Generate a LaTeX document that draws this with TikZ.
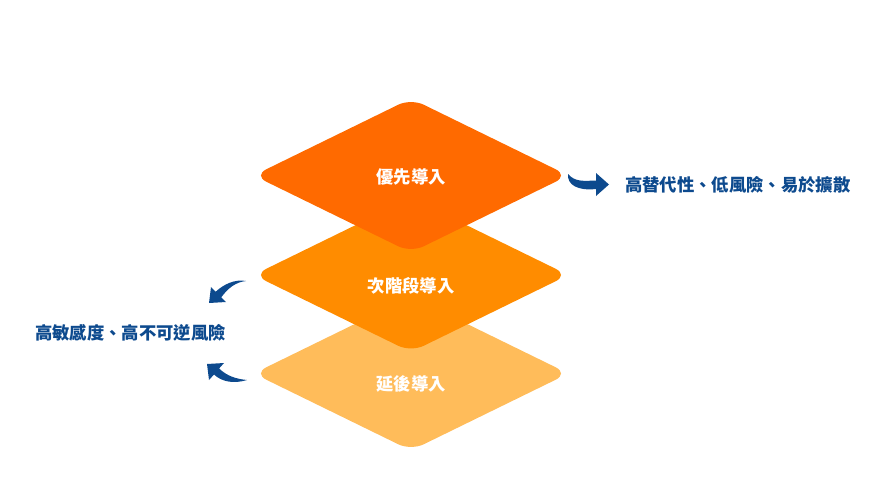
\documentclass[tikz,border=0pt]{standalone}
\usepackage{fontspec}
\newfontfamily\cjk{Noto Sans CJK TC}
\definecolor{topc}{HTML}{FF6A00}
\definecolor{midc}{HTML}{FF8C00}
\definecolor{lowc}{HTML}{FFBC5A}
\definecolor{bluec}{HTML}{0D4A8E}
\tikzset{
  layer/.style={rounded corners=10.5pt},
  laytext/.style={text=white, font=\cjk\bfseries\fontsize{13}{15}\selectfont, inner sep=0pt},
  note/.style={text=bluec, font=\cjk\bfseries\fontsize{13}{15}\selectfont, inner sep=0pt, anchor=west},
  swoosh/.style={fill=bluec}
}
\begin{document}
\begin{tikzpicture}[x=0.75pt,y=-0.75pt]
\useasboundingbox (0,0) rectangle (882,496);
% layers (bottom first)
\fill[lowc,layer] (253.6,373.5) -- (411,296.5) -- (568.4,373.5) -- (411,450.5) -- cycle;
\fill[midc,layer] (253.6,275) -- (411,198) -- (568.4,275) -- (411,352) -- cycle;
\fill[topc,layer] (253.6,175.5) -- (411,98.5) -- (568.4,175.5) -- (411,252.5) -- cycle;
\node[laytext] (l1) at (411,177) {優先導入};
\node[laytext] (l2) at (411,286) {次階段導入};
\node[laytext] (l3) at (411,384) {延後導入};
% notes
\node[note] (n1) at (625,185) {高替代性、低風險、易於擴散};
\node[note] (n2) at (35,333) {高敏感度、高不可逆風險};
% right arrow
\fill[swoosh] (568,174) .. controls (575,182) and (583,181) .. (596,180.5)
  -- (596,173) -- (609,184.5) -- (596,196) -- (596,189)
  .. controls (578,191) and (567,185) .. (568,174) -- cycle;
% upper left arrow
\fill[swoosh] (246,281) .. controls (235,279) and (224,284) .. (215.7,291.7)
  -- (211,287) -- (209,303) -- (226,302) -- (221.3,297.3)
  .. controls (228,288) and (236,282) .. (246,281) -- cycle;
% lower left arrow
\fill[swoosh] (247,380) .. controls (234,384) and (222,382) .. (214,374.5)
  -- (209,380) -- (207,364) -- (224,363) -- (219.1,368.5)
  .. controls (227,376) and (236,379) .. (247,380) -- cycle;
\end{tikzpicture}
\end{document}
